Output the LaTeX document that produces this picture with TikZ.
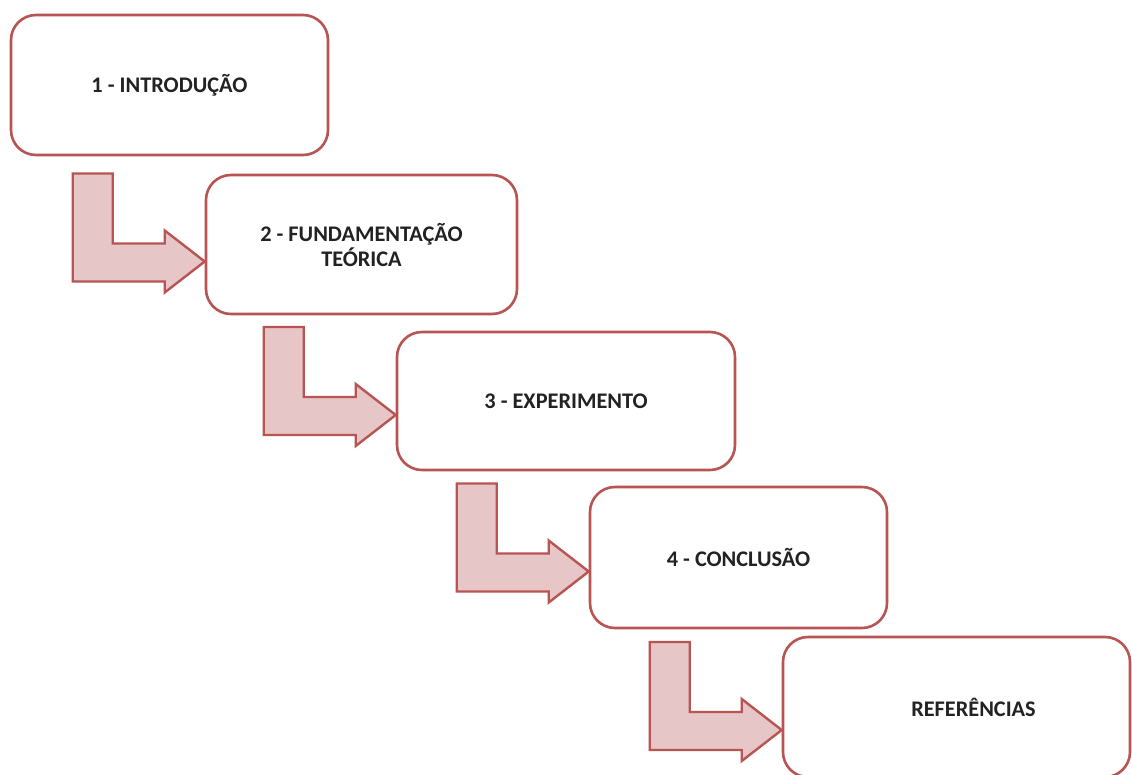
\documentclass[tikz,border=0pt]{standalone}
\usepackage{fontspec}
\setmainfont{Carlito}
\usetikzlibrary{calc}
\definecolor{edgered}{HTML}{B85452}
\definecolor{arrowfill}{HTML}{E6C6C6}
\definecolor{txt}{HTML}{222222}
\tikzset{
  stagebox/.style={draw=edgered, line width=2.6pt, rounded corners=25pt, fill=white,
    align=center, font=\fontsize{22.3}{25}\selectfont\bfseries, text=txt, inner sep=0pt},
  blockarrow/.style={draw=edgered, line width=2.4pt, fill=arrowfill, line join=miter}
}
\newcommand{\larrow}[1]{%
  \draw[blockarrow] (#1) -- ++(-40,-31) -- ++(0,13) -- ++(-52,0) -- ++(0,-70)
    -- ++(-40,0) -- ++(0,108) -- ++(92,0) -- ++(0,11) -- cycle;}
\begin{document}
\begin{tikzpicture}[x=1pt,y=-1pt]
\useasboundingbox (0,0) rectangle (1132,774);
\clip (0,0) rectangle (1132,774);
\fill[white] (0,0) rectangle (1132,774);
\node[stagebox, minimum width=317pt, minimum height=140pt] (b1) at (169.5,85) {1 - INTRODUÇÃO};
\node[stagebox, minimum width=311pt, minimum height=139pt] (b2) at (361.5,244.5) {2 - FUNDAMENTAÇÃO\\TEÓRICA};
\node[stagebox, minimum width=338pt, minimum height=138pt] (b3) at (566,401) {3 - EXPERIMENTO};
\node[stagebox, minimum width=297pt, minimum height=141pt] (b4) at (738.5,557.5) {4 - CONCLUSÃO};
\node[stagebox, minimum width=347pt, minimum height=140pt] (b5) at (956.5,707) {\hspace*{34pt}REFERÊNCIAS};
\coordinate (t1) at ($(b2.west)+(0,17)$);
\coordinate (t2) at ($(b3.west)+(0,14)$);
\coordinate (t3) at ($(b4.west)+(0,14)$);
\coordinate (t4) at ($(b5.west)+(0,23)$);
\larrow{t1}
\larrow{t2}
\larrow{t3}
\larrow{t4}
\end{tikzpicture}
\end{document}
